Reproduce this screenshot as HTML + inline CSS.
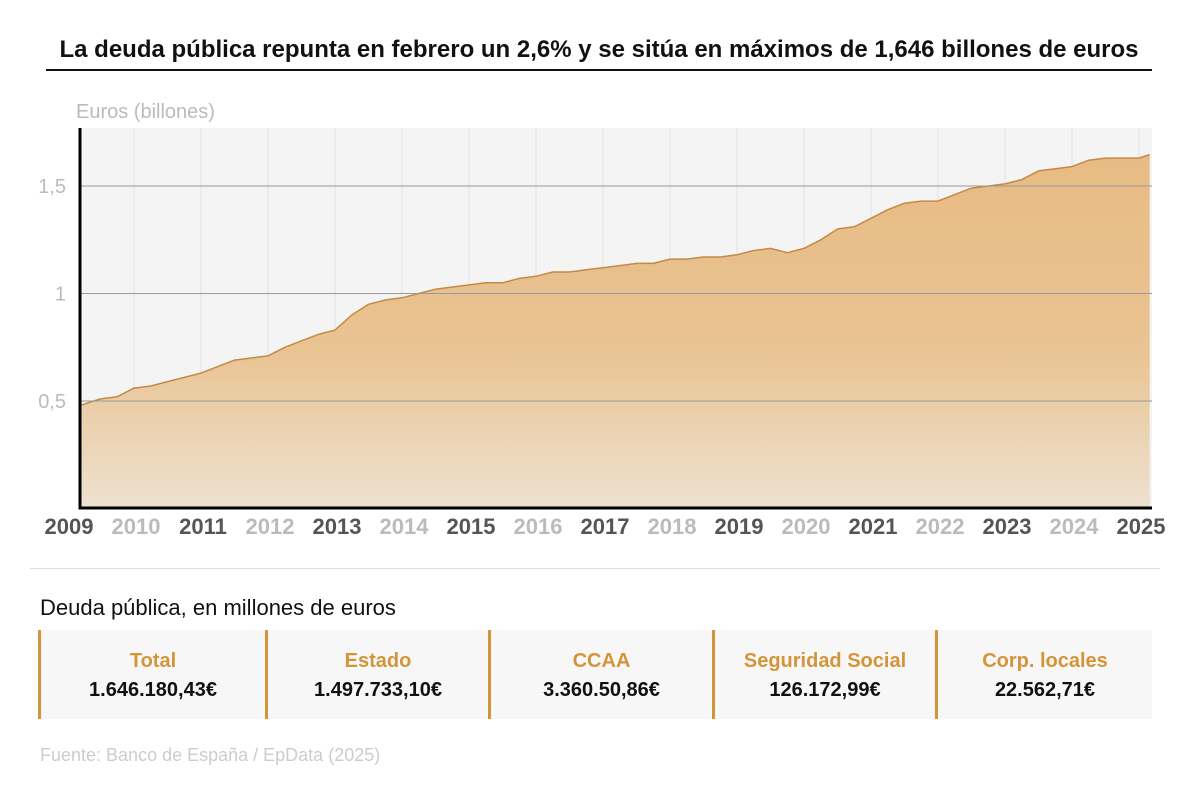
<!DOCTYPE html>
<html><head><meta charset="utf-8"><style>
body{margin:0;width:1200px;height:793px;background:#fff;font-family:"Liberation Sans",Arial,sans-serif;position:relative;overflow:hidden}
.t{position:absolute;white-space:nowrap}
.box{position:absolute;top:630px;height:89px;background:#f7f7f7;border-left:3px solid #d4953a;text-align:center}
.box .l{color:#d4953a;font-weight:bold;font-size:20px;margin-top:20px}
.box .v{color:#111;font-weight:bold;font-size:20px;margin-top:6px}
</style></head><body>
<div class="t" style="left:46px;top:36px;width:1106px;text-align:center;font-size:24px;font-weight:bold;color:#111">La deuda pública repunta en febrero un 2,6% y se sitúa en máximos de 1,646 billones de euros</div>
<div style="position:absolute;left:46px;top:69px;width:1106px;height:2px;background:#111"></div>
<svg id="chart" width="1200" height="560" style="position:absolute;left:0;top:0">
<defs><linearGradient id="g" x1="0" y1="0" x2="0" y2="1"><stop offset="0" stop-color="#e8bb84"/><stop offset="0.55" stop-color="#e9c392"/><stop offset="1" stop-color="#ede1cf"/></linearGradient></defs>
</svg>
<div style="position:absolute;left:30px;top:568px;width:1130px;height:1px;background:#ddd"></div>
<div class="t" style="left:40px;top:595px;font-size:22px;color:#111">Deuda pública, en millones de euros</div>
<div class="box" style="left:38px;width:224px"><div class="l">Total</div><div class="v">1.646.180,43€</div></div>
<div class="box" style="left:265px;width:220px"><div class="l">Estado</div><div class="v">1.497.733,10€</div></div>
<div class="box" style="left:488px;width:221px"><div class="l">CCAA</div><div class="v">3.360.50,86€</div></div>
<div class="box" style="left:712px;width:220px"><div class="l">Seguridad Social</div><div class="v">126.172,99€</div></div>
<div class="box" style="left:935px;width:214px"><div class="l">Corp. locales</div><div class="v">22.562,71€</div></div>
<div class="t" style="left:40px;top:745px;font-size:18px;color:#ccc">Fuente: Banco de España / EpData (2025)</div>
<script>
const times=[2009.2,2009.5,2009.75,2010,2010.25,2010.5,2010.75,2011,2011.25,2011.5,2011.75,2012,2012.25,2012.5,2012.75,2013,2013.25,2013.5,2013.75,2014,2014.25,2014.5,2014.75,2015,2015.25,2015.5,2015.75,2016,2016.25,2016.5,2016.75,2017,2017.25,2017.5,2017.75,2018,2018.25,2018.5,2018.75,2019,2019.25,2019.5,2019.75,2020,2020.25,2020.5,2020.75,2021,2021.25,2021.5,2021.75,2022,2022.25,2022.5,2022.75,2023,2023.25,2023.5,2023.75,2024,2024.25,2024.5,2024.75,2025,2025.16];
const values=[0.48,0.51,0.52,0.56,0.57,0.59,0.61,0.63,0.66,0.69,0.70,0.71,0.75,0.78,0.81,0.83,0.90,0.95,0.97,0.98,1.00,1.02,1.03,1.04,1.05,1.05,1.07,1.08,1.10,1.10,1.11,1.12,1.13,1.14,1.14,1.16,1.16,1.17,1.17,1.18,1.20,1.21,1.19,1.21,1.25,1.30,1.31,1.35,1.39,1.42,1.43,1.43,1.46,1.49,1.50,1.51,1.53,1.57,1.58,1.59,1.62,1.63,1.63,1.63,1.646];
const years=[2009,2010,2011,2012,2013,2014,2015,2016,2017,2018,2019,2020,2021,2022,2023,2024,2025];
const yTicks=[0.5,1,1.5];
const yTickLabels=["0,5","1","1,5"];
const NS="http://www.w3.org/2000/svg";
const svg=document.getElementById('chart');
const X=t=>67+(t-2009)*67;
const Y=v=>508.5-v*215;
const L=80,R=1152,T=128,B=508;
function mk(tag,at){const e=document.createElementNS(NS,tag);for(const k in at)e.setAttribute(k,at[k]);svg.appendChild(e);return e;}
const bg=mk('rect',{x:L,y:T,width:R-L,height:B-T,fill:'#f4f4f4'});


years.forEach((yr,i)=>{
  if(X(yr)>L&&X(yr)<R){const g=mk('line',{x1:X(yr),x2:X(yr),y1:T,y2:B,stroke:'#e2e2e2','stroke-width':1});
  
  }
  const tx=mk('text',{x:X(yr)+2,y:534,'text-anchor':'middle','font-size':22,'font-weight':'bold',fill:i%2==0?'#555':'#bbb','font-family':'Liberation Sans, sans-serif'});
  tx.textContent=yr;
  
  
});
let d='M'+X(times[0])+','+B;
times.forEach((t,i)=>{d+=' L'+X(t).toFixed(1)+','+Y(values[i]).toFixed(1);});
let ld='M'+times.map((t,i)=>X(t).toFixed(1)+','+Y(values[i]).toFixed(1)).join(' L');
d+=' L'+X(times[times.length-1])+','+B+' Z';
const area=mk('path',{d:d,fill:'url(#g)'});


const line=mk('path',{d:ld,fill:'none',stroke:'#c48a45','stroke-width':1.5,'stroke-linejoin':'round'});


yTicks.forEach((v,i)=>{
  const g=mk('line',{x1:L,x2:R,y1:Y(v),y2:Y(v),stroke:'#999','stroke-width':1});
  
  
  const tx=mk('text',{x:66,y:Y(v)+7,'text-anchor':'end','font-size':20,fill:'#bbb','font-family':'Liberation Sans, sans-serif'});
  tx.textContent=yTickLabels[i];
  
  
});
const yt=mk('text',{x:76,y:118,'font-size':20,fill:'#bbb','font-family':'Liberation Sans, sans-serif'});
yt.textContent='Euros (billones)';


const ax=mk('path',{d:'M'+L+','+T+' L'+L+','+B+' L'+R+','+B,fill:'none',stroke:'#000','stroke-width':3});


</script>
</body></html>
